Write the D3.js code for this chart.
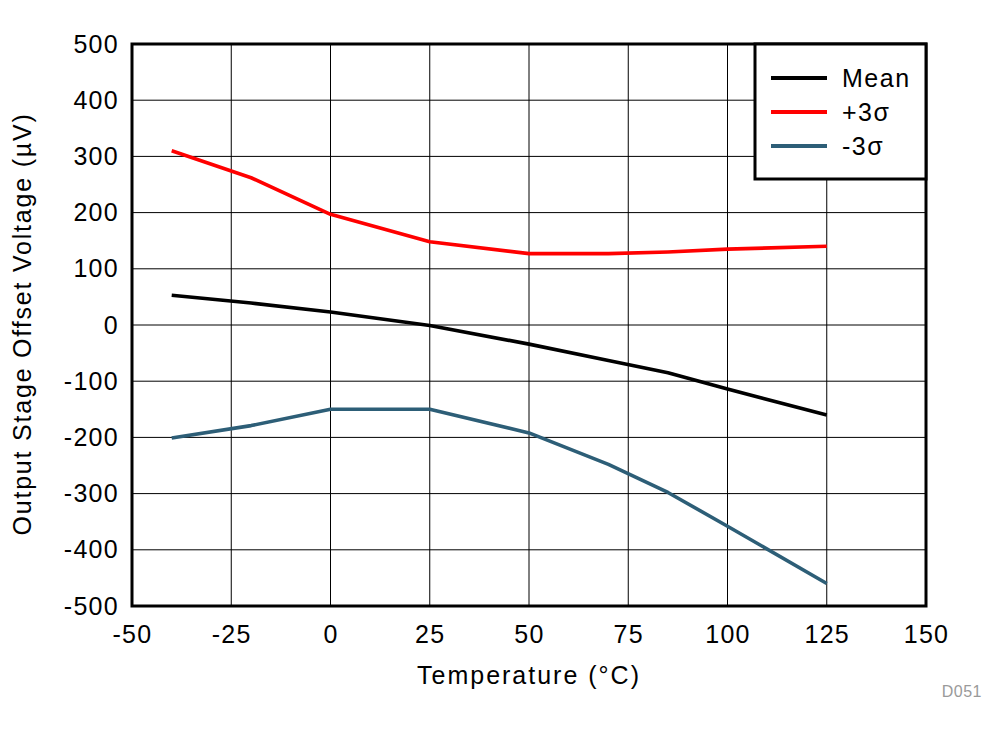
<!DOCTYPE html>
<html><head><meta charset="utf-8">
<script src="https://cdn.jsdelivr.net/npm/d3@7"></script>
<style>body{margin:0;background:#fff}svg{display:block}text{font-family:Arial,"Liberation Sans",sans-serif}</style>
</head><body>
<svg id="c" width="1008" height="734"></svg>
<script>
const temps = [-40, -20, 0, 25, 50, 70, 85, 100, 125];
const meanVals = [53, 39, 23, -1, -34, -63, -85, -114, -160];
const plus3Vals = [310, 262, 197, 148, 127, 127, 130, 135, 140];
const minus3Vals = [-201, -179, -150, -150, -192, -248, -298, -358, -460];
const xTicks = [-50, -25, 0, 25, 50, 75, 100, 125, 150];
const yTicks = [-500, -400, -300, -200, -100, 0, 100, 200, 300, 400, 500];
const seriesNames = ["Mean", "+3\u03c3", "-3\u03c3"];
const seriesColors = ["#000000", "#ff0000", "#2d5e77"];

const svg = d3.select("#c");
const L = 132, R = 926, T = 44, B = 606;
const x = d3.scaleLinear().domain([-50, 150]).range([L, R]);
const y = d3.scaleLinear().domain([-500, 500]).range([B, T]);
const fmt = d => String(d);

// grid
const g = svg.append("g");
g.selectAll(".vx").data(xTicks).join("line")
  .attr("x1", d => x(d)).attr("x2", d => x(d)).attr("y1", T).attr("y2", B)
  .attr("stroke", "#000").attr("stroke-width", 1);
g.selectAll(".hy").data(yTicks).join("line")
  .attr("x1", L).attr("x2", R).attr("y1", d => y(d)).attr("y2", d => y(d))
  .attr("stroke", "#000").attr("stroke-width", 1);

// axes labels
const xAxis = d3.axisBottom(x).tickValues(xTicks).tickSize(0).tickPadding(19).tickFormat(fmt);
const xa = svg.append("g").attr("transform", `translate(0,${B})`).call(xAxis);
xa.select(".domain").remove();
xa.selectAll("text").attr("font-size", 25).attr("fill", "#000")
  .style("font-family", "Arial, 'Liberation Sans', sans-serif").style("letter-spacing", "1.3px");

const yAxis = d3.axisLeft(y).tickValues(yTicks).tickSize(0).tickPadding(13).tickFormat(fmt);
const ya = svg.append("g").attr("transform", `translate(${L},0)`).call(yAxis);
ya.select(".domain").remove();
ya.selectAll("text").attr("font-size", 25).attr("fill", "#000")
  .style("font-family", "Arial, 'Liberation Sans', sans-serif").style("letter-spacing", "1.3px");

// series
const series = [meanVals, plus3Vals, minus3Vals];
const line = d3.line().x((d, i) => x(temps[i])).y(d => y(d));
series.forEach((vals, k) => {
  svg.append("path").datum(vals).attr("d", line)
    .attr("fill", "none").attr("stroke", seriesColors[k]).attr("stroke-width", 3.6)
    .attr("stroke-linejoin", "round");
});

// frame
svg.append("rect").attr("x", L).attr("y", T).attr("width", R - L).attr("height", B - T)
  .attr("fill", "none").attr("stroke", "#000").attr("stroke-width", 3);

// legend
const lg = svg.append("g");
lg.append("rect").attr("x", 755).attr("y", T).attr("width", R - 755).attr("height", 135)
  .attr("fill", "#fff").attr("stroke", "#000").attr("stroke-width", 3);
seriesNames.forEach((n, k) => {
  const yy = 78 + k * 34;
  lg.append("line").attr("x1", 771).attr("x2", 827).attr("y1", yy).attr("y2", yy)
    .attr("stroke", seriesColors[k]).attr("stroke-width", 4);
  lg.append("text").attr("x", 842).attr("y", yy + 9).attr("font-size", 25)
    .style("letter-spacing", "1.5px").text(n);
});

// titles
svg.append("text").attr("x", 529).attr("y", 684).attr("text-anchor", "middle")
  .attr("font-size", 25).style("letter-spacing", "2px").text("Temperature (\u00b0C)");
svg.append("text").attr("transform", "translate(31,324) rotate(-90)").attr("text-anchor", "middle")
  .attr("font-size", 25).style("letter-spacing", "1.8px").text("Output Stage Offset Voltage (\u00b5V)");
svg.append("text").attr("x", 982).attr("y", 697).attr("text-anchor", "end")
  .attr("font-size", 16).attr("fill", "#9a9a9a").style("letter-spacing", "0.5px").text("D051");
</script>
</body></html>
